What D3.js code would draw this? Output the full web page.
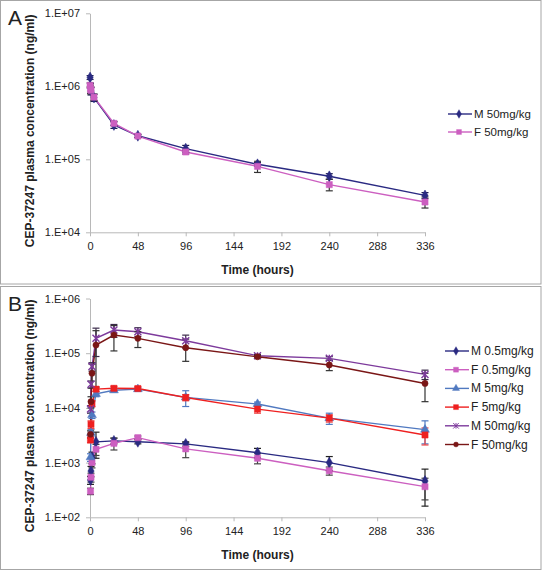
<!DOCTYPE html>
<html><head><meta charset="utf-8">
<script src="https://cdn.jsdelivr.net/npm/d3@7"></script>
<style>body{margin:0;background:#fff}svg{display:block;font-family:Arial,"Liberation Sans",sans-serif}</style>
</head><body><svg id="c" width="542" height="570"></svg>
<script>
// ---------- DATA ----------
const xTicks = [0, 48, 96, 144, 192, 240, 288, 336];
const yTicksA = [1e4, 1e5, 1e6, 1e7];
const yTicksB = [1e2, 1e3, 1e4, 1e5, 1e6];

// Panel A (50 mg/kg)
const timesA = [0.083, 0.5, 1, 4, 24, 48, 96, 168, 240, 336];
const aM50   = [1.32e6, 9.5e5, 8.6e5, 7.0e5, 2.95e5, 2.1e5, 1.40e5, 8.55e4, 5.85e4, 3.2e4];
const aM50sd = [8e4, 1.5e5, 1.0e5, 8e4, 3e4, 1e4, 1.5e4, 5e3, 5e3, 3e3];
const aF50   = [1.03e6, 9.2e5, 8.8e5, 7.1e5, 3.1e5, 2.08e5, 1.26e5, 8.0e4, 4.5e4, 2.6e4];
const aF50sd = [8e4, 1.2e5, 1.0e5, 7e4, 2e4, 1e4, 8e3, 1.4e4, 8e3, 4.5e3];
const namesA = ["M 50mg/kg", "F 50mg/kg"];

// Panel B (three doses)
const timesB = [0.5, 1, 2, 6, 24, 48, 96, 168, 240, 336];
const bM05   = [4.8e2, 7.0e2, 1.25e3, 2.4e3, 2.5e3, 2.4e3, 2.2e3, 1.52e3, 1.0e3, 4.6e2];
const bM05sd = [8e1, 1.5e2, 3e2, 1.2e3, 3e2, 2e2, 2e2, 3e2, 2.9e2, 3e2];
const bF05   = [3.0e2, 5.4e2, 1.0e3, 1.75e3, 2.25e3, 2.86e3, 1.78e3, 1.2e3, 7.1e2, 3.63e2];
const bF05sd = [4e1, 1e2, 2e2, 4e2, 5.5e2, 2e2, 5.5e2, 2.5e2, 1.2e2, 1.55e2];
const bM5    = [1.25e3, 3.5e3, 7.4e3, 1.8e4, 2.1e4, 2.2e4, 1.56e4, 1.18e4, 6.5e3, 4.0e3];
const bM5sd  = [2e2, 5e2, 1e3, 2e3, 1.5e3, 1.5e3, 5e3, 1e3, 1.5e3, 1.8e3];
const bF5    = [2.6e3, 5.0e3, 1.2e4, 2.2e4, 2.28e4, 2.26e4, 1.55e4, 9.5e3, 6.5e3, 3.2e3];
const bF5sd  = [3e2, 8e2, 1.5e3, 2e3, 2e3, 2e3, 2e3, 1.5e3, 1e3, 1.1e3];
const bM50   = [9.5e3, 2.7e4, 5.7e4, 1.87e5, 2.65e5, 2.47e5, 1.69e5, 9.0e4, 8.05e4, 4.1e4];
const bM50sd = [1.5e3, 4e3, 1e4, 1.0e5, 7e4, 4.5e4, 4.5e4, 5e3, 6e3, 8e3];
const bF50   = [3.3e3, 1.3e4, 4.3e4, 1.41e5, 2.15e5, 1.87e5, 1.26e5, 8.6e4, 6.1e4, 2.8e4];
const bF50sd = [5e2, 3e3, 2e4, 1.17e5, 1.05e5, 6e4, 5.5e4, 5e3, 1.3e4, 1.5e4];
const namesB = ["M 0.5mg/kg", "F 0.5mg/kg", "M 5mg/kg", "F 5mg/kg", "M 50mg/kg", "F 50mg/kg"];

// ---------- STYLE ----------
const NAVY = "#2a2a82", PINK = "#cc5fc0", BLUE = "#5079c0", RED = "#ee2020", PURP = "#7d3a9c", DRED = "#7a1616";
const svg = d3.select("#c");
const AXC = "#b8b8b8", TXT = "#222";

function star(size) {
  const s = size / 2;
  return `M${-s},${-s}L${s},${s}M${-s},${s}L${s},${-s}M0,${-s}L0,${s}`;
}
function markerPath(type) {
  if (type === "diamond") return d3.symbol(d3.symbolDiamond, 34)();
  if (type === "square") return d3.symbol(d3.symbolSquare, 38)();
  if (type === "triangle") return d3.symbol(d3.symbolTriangle, 34)();
  if (type === "circle") return d3.symbol(d3.symbolCircle, 30)();
  return star(7);
}

function panel(cfg) {
  const g = svg.append("g");
  // border
  g.append("rect").attr("x", 0.5).attr("y", cfg.top + 0.5).attr("width", 540.5).attr("height", cfg.h)
    .attr("fill", "none").attr("stroke", "#a6a6a6").attr("stroke-width", 1);
  const x = d3.scaleLinear().domain([0, 336]).range([90, 425]);
  const y = d3.scaleLog().domain(cfg.yDomain).range([cfg.yBottom, cfg.yTop]);

  const xa = g.append("g").attr("transform", `translate(0,${cfg.yBottom})`)
    .call(d3.axisBottom(x).tickValues(xTicks).tickSize(4).tickSizeOuter(0).tickPadding(6));
  const ya = g.append("g").attr("transform", `translate(90,0)`)
    .call(d3.axisLeft(y).tickValues(cfg.yTicks).tickSize(4).tickSizeOuter(0).tickPadding(6)
      .tickFormat(d => "1.E+" + String(Math.round(Math.log10(d))).padStart(2, "0")));
  [xa, ya].forEach(a => {
    a.select(".domain").attr("stroke", AXC);
    a.selectAll(".tick line").attr("stroke", AXC);
    a.selectAll(".tick text").attr("fill", TXT).style("font-size", "11px").style("font-family", "Arial, 'Liberation Sans', sans-serif");
  });

  g.append("text").attr("x", 257.5).attr("y", cfg.yBottom + 42).attr("text-anchor", "middle")
    .style("font-size", "12px").style("font-weight", "bold").attr("fill", TXT).text("Time (hours)");
  const cy = (cfg.yBottom + cfg.yTop) / 2 + 8;
  g.append("text").attr("transform", `translate(34,${cy}) rotate(-90)`).attr("text-anchor", "middle")
    .style("font-size", "12px").style("font-weight", "bold").attr("fill", TXT)
    .text("CEP-37247 plasma concentration (ng/ml)");
  g.append("text").attr("x", 8).attr("y", cfg.top + 25).style("font-size", "21px").attr("fill", TXT).text(cfg.letter);

  const line = d3.line().x(d => x(d.t)).y(d => y(d.v));
  cfg.series.forEach(s => {
    const pts = cfg.times.map((t, i) => ({ t, v: s.vals[i], sd: s.sd[i] }));
    g.append("path").datum(pts).attr("d", line).attr("fill", "none").attr("stroke", s.color).attr("stroke-width", 1.4);
    s.pts = pts;
  });
  cfg.series.forEach(s => {
    const eg = g.append("g").attr("stroke", s.err).attr("stroke-width", 1.2);
    s.pts.forEach(p => {
      const hi = y(p.v + p.sd), lo = y(Math.max(p.v - p.sd, cfg.yDomain[0]));
      const xx = x(p.t);
      eg.append("line").attr("x1", xx).attr("x2", xx).attr("y1", hi).attr("y2", lo);
      eg.append("line").attr("x1", xx - 3.5).attr("x2", xx + 3.5).attr("y1", hi).attr("y2", hi);
      eg.append("line").attr("x1", xx - 3.5).attr("x2", xx + 3.5).attr("y1", lo).attr("y2", lo);
    });
  });
  cfg.series.forEach(s => {
    const d = markerPath(s.marker);
    g.append("g").selectAll("path").data(s.pts).join("path")
      .attr("transform", p => `translate(${x(p.t)},${y(p.v)})`).attr("d", d)
      .attr("fill", s.marker === "star" ? "none" : s.color)
      .attr("stroke", s.color).attr("stroke-width", s.marker === "star" ? 1.4 : 0.5);
  });
  // legend
  cfg.series.forEach((s, i) => {
    const ly = cfg.legY + i * cfg.legStep;
    g.append("line").attr("x1", cfg.legX).attr("x2", cfg.legX + 24).attr("y1", ly).attr("y2", ly)
      .attr("stroke", s.color).attr("stroke-width", 1.4);
    g.append("path").attr("transform", `translate(${cfg.legX + 11},${ly})`).attr("d", markerPath(s.marker))
      .attr("fill", s.marker === "star" ? "none" : s.color).attr("stroke", s.color)
      .attr("stroke-width", s.marker === "star" ? 1.2 : 0.5).attr("transform", `translate(${cfg.legX + 11},${ly}) scale(0.8)`);
    g.append("text").attr("x", cfg.legX + 26).attr("y", ly + 4).style("font-size", cfg.legFont).attr("fill", TXT).text(s.name);
  });
}

panel({
  top: 0, h: 283.5, letter: "A", yDomain: [1e4, 1e7], yTicks: yTicksA, yTop: 13.3, yBottom: 232.3,
  times: timesA, legX: 448, legY: 114, legStep: 18, legFont: "11.5px",
  series: [
    { name: namesA[0], vals: aM50, sd: aM50sd, color: NAVY, err: "#1e1e50", marker: "diamond" },
    { name: namesA[1], vals: aF50, sd: aF50sd, color: PINK, err: "#333", marker: "square" }
  ]
});
panel({
  top: 286, h: 283, letter: "B", yDomain: [1e2, 1e6], yTicks: yTicksB, yTop: 298.5, yBottom: 517.3,
  times: timesB, legX: 445, legY: 351, legStep: 18.7, legFont: "12px",
  series: [
    { name: namesB[0], vals: bM05, sd: bM05sd, color: NAVY, err: "#222", marker: "diamond" },
    { name: namesB[1], vals: bF05, sd: bF05sd, color: PINK, err: "#444", marker: "square" },
    { name: namesB[2], vals: bM5, sd: bM5sd, color: BLUE, err: BLUE, marker: "triangle" },
    { name: namesB[3], vals: bF5, sd: bF5sd, color: RED, err: "#e44", marker: "square" },
    { name: namesB[4], vals: bM50, sd: bM50sd, color: PURP, err: "#3a2a4a", marker: "star" },
    { name: namesB[5], vals: bF50, sd: bF50sd, color: DRED, err: "#333", marker: "circle" }
  ]
});
</script></body></html>
